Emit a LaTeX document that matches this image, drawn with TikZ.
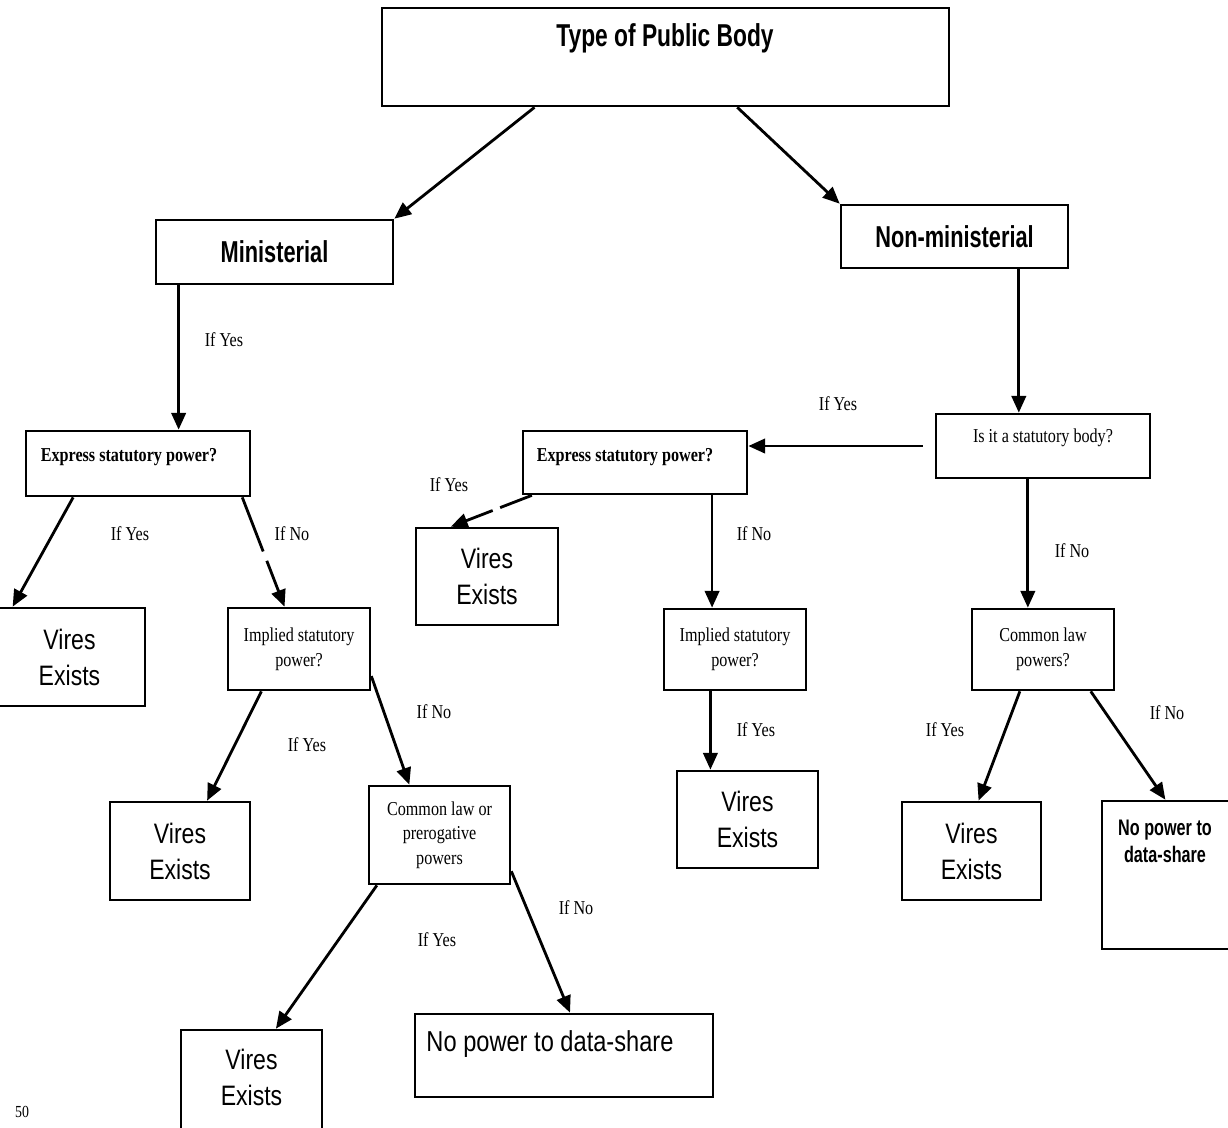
\documentclass[tikz,border=0pt]{standalone}
\usepackage{fontspec}
\usetikzlibrary{arrows.meta,calc}
\newfontfamily\headfont[FakeStretch=0.72]{Liberation Sans}
\newfontfamily\boxfont[FakeStretch=0.82]{Liberation Sans}
\newfontfamily\askfont[FakeStretch=0.82]{Liberation Serif}
\tikzset{
  wh/.style 2 args={minimum width=#1*0.025cm, minimum height=#2*0.025cm},
  pbox/.style={draw, line width=1.9pt, inner sep=0pt, align=center},
  vires/.style={pbox, font=\boxfont\fontsize{20}{25.6}\selectfont},
  ask/.style={pbox, font=\askfont\fontsize{14}{17.5}\selectfont},
  asktext/.style={inner sep=0pt, align=center, font=\askfont\fontsize{14}{17.5}\selectfont},
  headtext/.style={inner sep=0pt, font=\headfont\bfseries\fontsize{22.5}{26}\selectfont},
  flow/.style={line width=2pt, -{Triangle[length=0.42cm,width=0.36cm]}},
  ifl/.style={inner sep=0pt, font=\askfont\fontsize{14}{17}\selectfont}
}
\begin{document}
\begin{tikzpicture}[x=0.025cm, y=-0.025cm]
\useasboundingbox (0,0) rectangle (1228,1127);
\clip (0,0) rectangle (1228,1127);

%% --- top level ---
\node[pbox, wh={567}{98}] (top) at (665.5,57) {};
\node[headtext] (toptxt) at (665,38) {Type of Public Body};
\node[pbox, wh={237}{64}, font=\headfont\bfseries\fontsize{21.5}{25}\selectfont] (mini) at (274.5,252) {Ministerial};
\node[pbox, wh={227}{63}, font=\headfont\bfseries\fontsize{21.5}{25}\selectfont] (nonmin) at (954.5,236.5) {Non-ministerial};

%% --- ministerial branch ---
\node[pbox, wh={224}{65}] (expL) at (138,463.5) {};
\node[asktext, font=\askfont\bfseries\fontsize{14}{17.5}\selectfont] (expLtxt) at (129,457) {Express statutory power?};
\node[vires, wh={151}{98}] (viresA) at (69.5,657) {Vires\\Exists};
\node[ask, wh={142}{82}] (implL) at (299,649) {Implied statutory\\power?};
\node[vires, wh={140}{98}] (viresB) at (180,851) {Vires\\Exists};
\node[ask, wh={141}{98}] (prerog) at (439.5,835) {Common law or\\prerogative\\powers};
\node[vires, wh={141}{111}] (viresC) at (251.5,1085.5) {};
\node[inner sep=0pt, align=center, font=\boxfont\fontsize{20}{25.6}\selectfont] (viresCtxt) at (251.5,1077) {Vires\\Exists};
\node[pbox, wh={298}{83}] (nopowB) at (564,1055.5) {};
\node[inner sep=0pt, font=\boxfont\fontsize{20.5}{24}\selectfont] (nopowBtxt) at (550,1044) {No power to data-share};

%% --- non-ministerial branch ---
\node[ask, wh={214}{64}] (isstat) at (1043,446) {};
\node[asktext] (isstattxt) at (1043,438) {Is it a statutory body?};
\node[pbox, wh={224}{63}] (expM) at (635,462.5) {};
\node[asktext, font=\askfont\bfseries\fontsize{14}{17.5}\selectfont] (expMtxt) at (625,457) {Express statutory power?};
\node[vires, wh={142}{97}] (viresD) at (487,576.5) {Vires\\Exists};
\node[ask, wh={142}{81}] (implM) at (735,649.5) {Implied statutory\\power?};
\node[vires, wh={141}{97}] (viresE) at (747.5,819.5) {Vires\\Exists};
\node[ask, wh={142}{81}] (commonR) at (1043,649.5) {Common law\\powers?};
\node[vires, wh={139}{98}] (viresF) at (971.5,851) {Vires\\Exists};
\node[pbox, wh={138}{148}] (nopowR) at (1171,875) {};
\node[inner sep=0pt, align=center, font=\headfont\bfseries\fontsize{16}{19}\selectfont] (nopowRtxt) at (1165,841) {No power to\\data-share};

%% --- connectors ---
\draw[flow] ($(top.south west)!0.27!(top.south east)$) -- (mini.north east);
\draw[flow] ($(top.south west)!0.626!(top.south east)$) -- (nonmin.north west);
\draw[flow] ($(mini.south west)!0.1!(mini.south east)$) coordinate (m1) -- (m1 |- expL.north);
\draw[flow] ($(nonmin.south west)!0.78!(nonmin.south east)$) coordinate (n1) -- (n1 |- isstat.north);
\draw[flow, shorten <=0.3cm] (isstat.west) -- (isstat.west -| expM.east);
\draw[flow] ($(isstat.south west)!0.43!(isstat.south east)$) coordinate (s1) -- (s1 |- commonR.north);
\draw[flow] ($(expL.south west)!0.214!(expL.south east)$) -- ($(viresA.north west)!0.13!(viresA.north east)$);
\draw[flow, dash pattern=on 1.45cm off 0.25cm on 10cm] ($(expL.south west)!0.96!(expL.south east)$) -- ($(implL.north west)!0.4!(implL.north east)$);
\draw[flow, dash pattern=on 0.85cm off 0.2cm on 10cm] ($(expM.south west)!0.045!(expM.south east)$) -- ($(viresD.north west)!0.25!(viresD.north east)$);
\draw[flow] ($(expM.south west)!0.84!(expM.south east)$) coordinate (e1) -- (e1 |- implM.north);
\draw[flow] ($(implL.south west)!0.24!(implL.south east)$) -- ($(viresB.north west)!0.69!(viresB.north east)$);
\draw[flow] ($(implL.north east)!0.82!(implL.south east)$) -- ($(prerog.north west)!0.29!(prerog.north east)$);
\draw[flow] ($(implM.south west)!0.33!(implM.south east)$) coordinate (i1) -- (i1 |- viresE.north);
\draw[flow] ($(prerog.south west)!0.064!(prerog.south east)$) -- ($(viresC.north west)!0.67!(viresC.north east)$);
\draw[flow] ($(prerog.north east)!0.86!(prerog.south east)$) -- ($(nopowB.north west)!0.52!(nopowB.north east)$);
\draw[flow] ($(commonR.south west)!0.34!(commonR.south east)$) -- ($(viresF.north west)!0.55!(viresF.north east)$);
\draw[flow] ($(commonR.south west)!0.83!(commonR.south east)$) -- ($(nopowR.north west)!0.46!(nopowR.north east)$);

%% --- branch labels ---
\foreach \x/\y/\t [count=\i] in {224/340/If Yes, 838/404/If Yes, 1072/551/If No,
    130/534/If Yes, 292/534/If No, 449/485/If Yes, 754/534/If No,
    307/745/If Yes, 434/712/If No, 756/730/If Yes, 437/940/If Yes,
    576/908/If No, 945/730/If Yes, 1167/713/If No}{
  \node[ifl] (lbl\i) at (\x,\y) {\t};
}

%% page number
\node[ifl, font=\askfont\fontsize{12}{14}\selectfont] (pageno) at (22,1112) {50};
\end{tikzpicture}
\end{document}
